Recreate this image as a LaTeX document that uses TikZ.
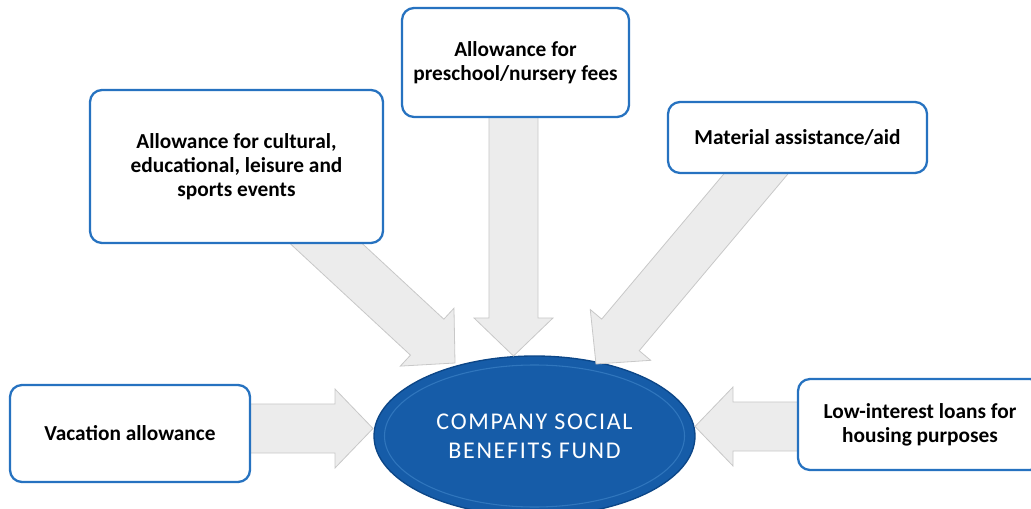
\documentclass[tikz,border=0pt]{standalone}
\usepackage{fontspec}
\setmainfont{Carlito}
\usetikzlibrary{calc,shapes.geometric}
\definecolor{boxblue}{RGB}{38,114,192}
\definecolor{arrfill}{RGB}{236,236,236}
\definecolor{arrdraw}{RGB}{200,200,200}
\definecolor{ellfill}{RGB}{22,92,168}
\definecolor{elledge}{RGB}{12,70,135}
\definecolor{ellhi}{RGB}{80,150,215}
\def\bw{18.4pt}
\def\hw{29.6pt}
\def\hl{28.5pt}
\newcommand\blockarr[2]{%
  \path[arr] let \p1=($(#2)-(#1)$), \n1={atan2(\y1,\x1)}, \n2={veclen(\x1,\y1)} in
    ($(#1)+(\n1+90:\bw)$) -- ($(#1)+(\n1:\n2-\hl)+(\n1+90:\bw)$)
    -- ($(#1)+(\n1:\n2-\hl)+(\n1+90:\hw)$) -- (#2)
    -- ($(#1)+(\n1:\n2-\hl)+(\n1-90:\hw)$) -- ($(#1)+(\n1:\n2-\hl)+(\n1-90:\bw)$)
    -- ($(#1)+(\n1-90:\bw)$) -- cycle;}
\tikzset{
  box/.style={draw=boxblue, line width=1.7pt, rounded corners=9pt, fill=white,
    align=center, font=\fontsize{16}{18}\selectfont\bfseries, text=black},
  arr/.style={fill=arrfill, draw=arrdraw, line width=0.6pt, line join=miter},
}
\begin{document}
\begin{tikzpicture}[x=0.75pt,y=-0.75pt]
\useasboundingbox (0,0) rectangle (1031,509);
% central fund
\node[ellipse, fill=ellfill, draw=elledge, line width=1pt, minimum width=240.75pt, minimum height=120pt, inner sep=0pt] (F) at (534.5,436) {};
\draw[ellhi, line width=0.8pt, opacity=0.45] (534.5,436) ellipse [x radius=150, y radius=71];
\node[text=white, align=center, font=\fontsize{18}{22}\selectfont\addfontfeatures{LetterSpace=7}] at (F.center) {COMPANY SOCIAL\\BENEFITS FUND};
% arrow anchor coordinates
\coordinate (sA) at (304,223); \coordinate (tA) at (455,363);
\coordinate (sB) at (513.5,110); \coordinate (tB) at (513.5,356);
\coordinate (sC) at (776,150); \coordinate (tC) at (596,364);
\coordinate (sD) at (240,428.5); \coordinate (tD) at (373,428.5);
\coordinate (sE) at (808,426.5); \coordinate (tE) at (695,426.5);
\blockarr{sA}{tA}
\blockarr{sB}{tB}
\blockarr{sC}{tC}
\blockarr{sD}{tD}
\blockarr{sE}{tE}
% boxes
\node[box, minimum width=219.75pt, minimum height=114.75pt] (A) at (236.5,166.5) {Allowance for cultural,\\educational, leisure and\\sports events};
\node[box, minimum width=170.25pt, minimum height=81.75pt] (B) at (515.5,62.5) {Allowance for\\preschool/nursery fees};
\node[box, minimum width=194.25pt, minimum height=53.25pt] (C) at (797.5,137.5) {Material assistance/aid};
\node[box, minimum width=180pt, minimum height=72.75pt] (D) at (130,433.5) {Vacation allowance};
\node[box, minimum width=183pt, minimum height=68.25pt] (E) at (920,424.5) {Low-interest loans for\\housing purposes};
\end{tikzpicture}
\end{document}
